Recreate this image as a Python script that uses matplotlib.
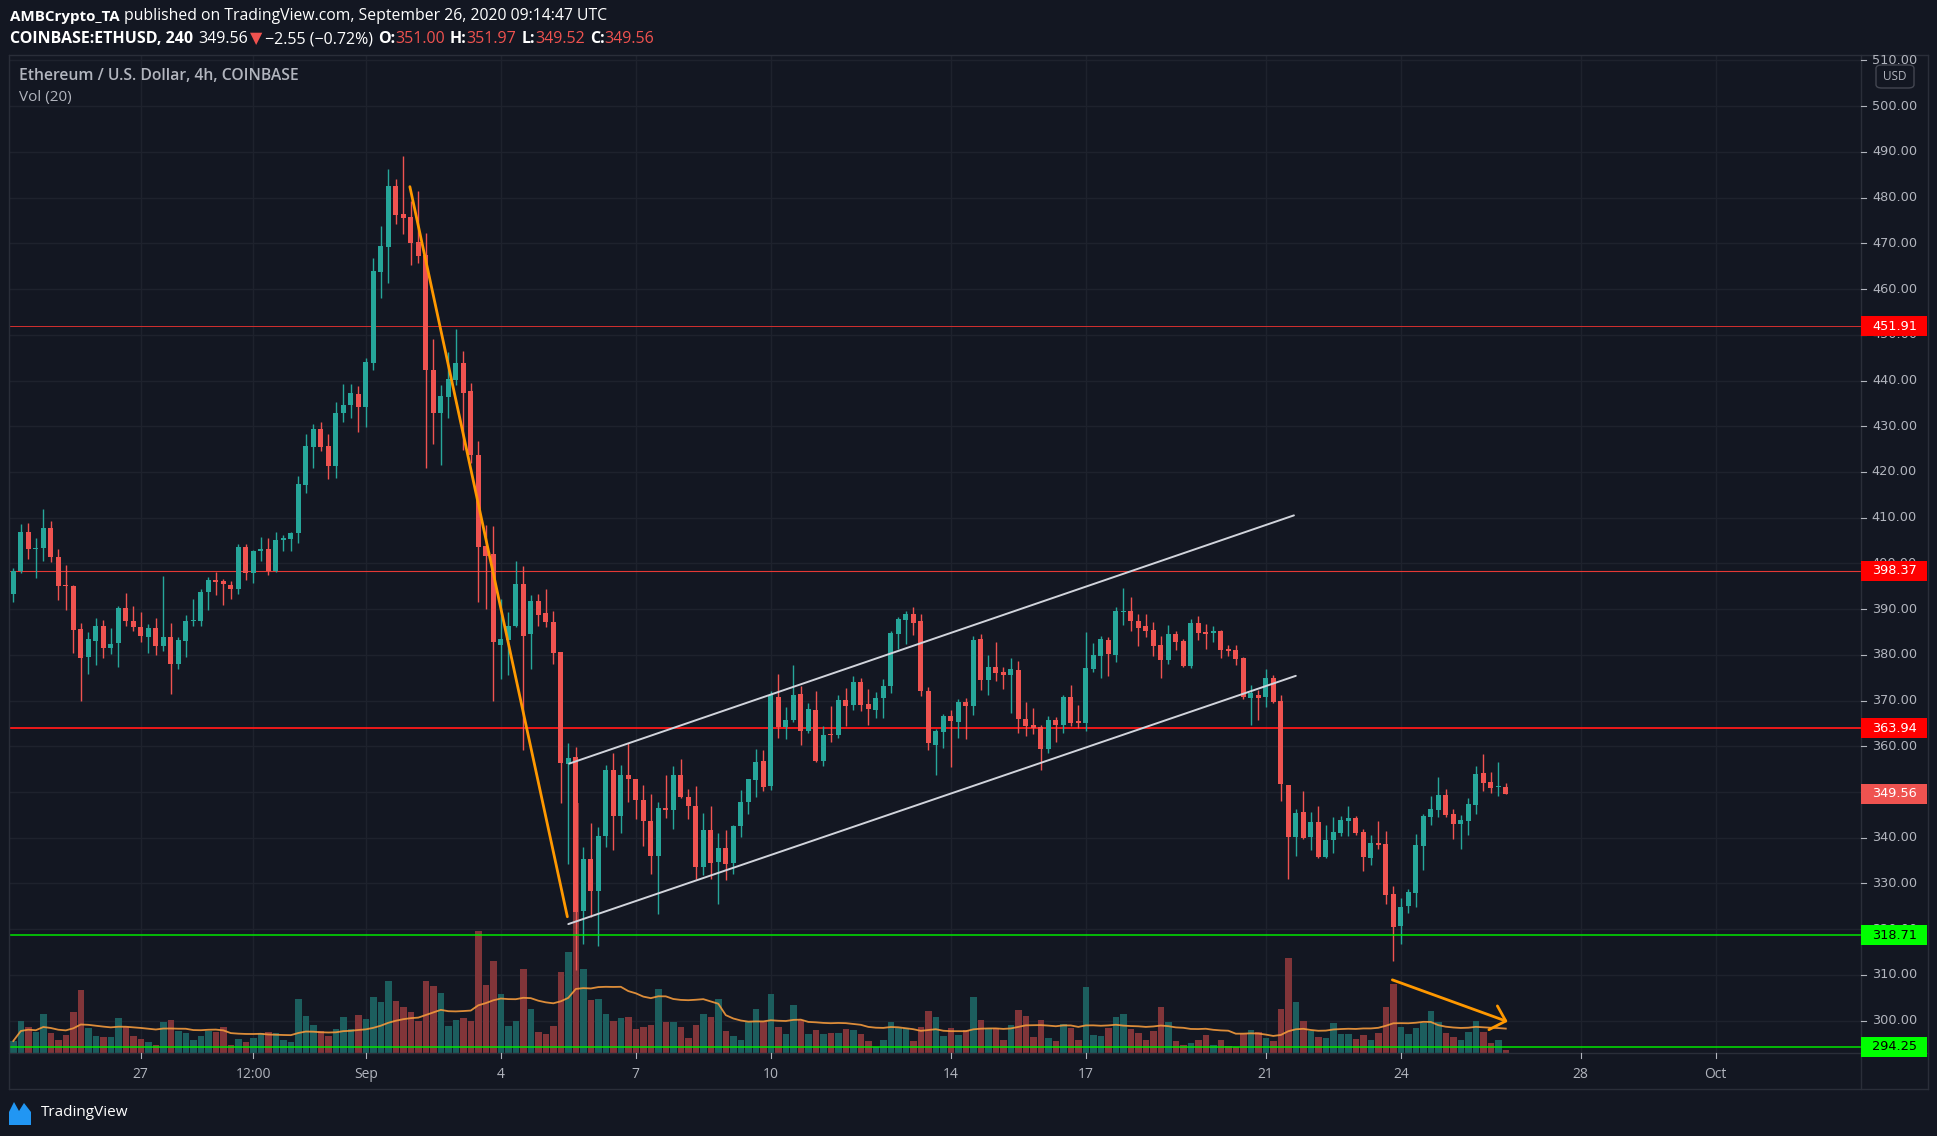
import matplotlib
matplotlib.use("Agg")
import matplotlib.pyplot as plt
import matplotlib.transforms as mtransforms
from matplotlib.lines import Line2D
from matplotlib.patches import Rectangle, FancyBboxPatch, Polygon
import numpy as np
import pandas as pd

# ETHUSD 4h candles, first candle 24 Aug 04:00 UTC
first_candle = "2020-08-24 04:00"

opens = [393.2, 398.3, 406.9, 403.1, 403.3, 407.8, 401.5, 395.1, 395.1, 385.7,
         379.6, 383.1, 386.3, 381.4, 382.5, 390.3, 387.4, 386.1, 384.0, 385.9,
         382.0, 383.9, 377.9, 383.1, 387.3, 387.3, 393.8, 396.4, 396.2, 395.3,
         394.5, 403.6, 397.8, 402.6, 403.2, 398.4, 405.2, 405.3, 406.6, 417.1,
         425.4, 429.3, 425.6, 421.3, 432.8, 434.7, 437.1, 434.1, 443.9, 463.8,
         469.2, 482.5, 476.4, 475.7, 470.3, 467.5, 442.4, 433.0, 436.3, 440.2,
         443.9, 437.8, 423.6, 403.7, 402.0, 382.1, 383.2, 386.2, 395.4, 384.5,
         391.8, 389.2, 387.2, 380.7, 356.2, 357.7, 323.9, 335.4, 328.3, 340.3,
         354.7, 344.7, 353.8, 352.9, 348.3, 343.6, 335.9, 346.4, 346.0, 353.8,
         349.0, 347.0, 333.5, 341.6, 334.6, 337.7, 334.4, 342.5, 347.9, 352.7,
         356.7, 351.2, 370.8, 364.1, 365.7, 371.5, 363.3, 368.0, 356.8, 362.5,
         362.4, 370.2, 369.1, 374.1, 369.3, 368.0, 370.6, 373.2, 384.6, 387.7,
         389.0, 387.5, 372.1, 360.3, 363.2, 366.7, 365.4, 369.7, 368.9, 383.5,
         374.5, 377.4, 376.3, 375.6, 376.7, 366.0, 364.7, 364.3, 359.5, 365.8,
         364.7, 370.8, 365.6, 365.1, 377.0, 379.8, 383.3, 380.0, 389.3, 389.6,
         387.5, 386.4, 385.5, 382.2, 378.9, 384.6, 383.1, 377.6, 387.0, 385.0,
         384.8, 385.3, 381.3, 381.1, 379.4, 370.6, 371.3, 370.8, 375.0, 370.0,
         351.6, 340.2, 345.6, 340.2, 343.5, 335.8, 339.5, 341.0, 343.7, 344.3,
         341.3, 335.6, 338.8, 338.6, 327.7, 320.6, 325.0, 327.9, 338.2, 344.5,
         346.1, 349.4, 345.2, 343.0, 343.7, 347.2, 354.2, 352.2, 351.0, 351.0]

highs = [399.0, 408.7, 408.9, 405.6, 412.0, 409.3, 403.2, 399.7, 395.2, 387.0,
         385.0, 388.1, 387.7, 385.9, 390.7, 393.6, 390.7, 389.4, 386.8, 388.1,
         397.3, 387.0, 383.8, 388.8, 392.1, 394.4, 397.1, 398.2, 396.5, 396.2,
         404.3, 404.3, 403.0, 405.8, 405.6, 406.9, 406.1, 406.9, 419.2, 428.4,
         430.4, 431.0, 428.2, 435.2, 439.3, 439.3, 438.9, 445.0, 466.8, 473.8,
         486.2, 484.0, 489.1, 479.2, 481.4, 472.3, 449.1, 439.1, 446.3, 451.3,
         446.5, 439.5, 426.7, 408.5, 408.2, 392.3, 389.3, 400.5, 399.4, 393.1,
         393.4, 394.4, 389.6, 380.7, 360.6, 359.8, 338.0, 343.3, 342.4, 355.9,
         358.6, 356.0, 360.8, 352.9, 351.6, 349.6, 347.7, 353.6, 355.7, 357.1,
         350.7, 351.2, 345.3, 347.0, 341.0, 341.6, 342.7, 350.4, 352.9, 359.5,
         359.2, 372.1, 375.8, 368.6, 377.8, 373.2, 369.5, 372.1, 364.5, 368.9,
         371.1, 372.8, 375.4, 375.0, 372.6, 371.9, 374.8, 385.3, 388.3, 389.6,
         390.5, 389.0, 373.0, 363.8, 367.1, 368.0, 370.4, 370.6, 384.2, 384.6,
         380.0, 382.9, 377.4, 379.4, 378.7, 369.7, 368.4, 364.7, 366.7, 366.5,
         371.2, 373.5, 369.1, 385.0, 382.6, 384.2, 384.0, 390.5, 394.7, 392.7,
         389.0, 389.0, 387.2, 384.2, 386.6, 385.3, 383.5, 387.9, 388.5, 386.8,
         386.4, 385.5, 382.2, 382.2, 379.6, 373.5, 372.4, 377.0, 375.6, 371.1,
         351.6, 346.3, 350.2, 345.6, 347.0, 342.8, 344.6, 344.8, 347.0, 344.8,
         341.9, 340.6, 343.7, 341.5, 329.4, 326.8, 328.7, 340.8, 345.2, 349.1,
         353.3, 350.7, 346.3, 345.0, 348.7, 355.7, 358.4, 354.4, 356.6, 351.97]

lows = [391.5, 397.9, 400.9, 396.9, 400.6, 400.4, 391.9, 389.7, 380.3, 370.0,
        375.9, 377.7, 379.2, 380.1, 377.4, 386.4, 385.3, 382.7, 380.3, 380.0,
        380.9, 371.5, 376.8, 379.6, 386.2, 386.2, 389.9, 393.0, 390.8, 392.3,
        393.4, 396.3, 395.6, 400.6, 397.4, 398.2, 402.8, 402.6, 404.5, 415.3,
        420.8, 424.6, 418.4, 418.6, 431.0, 431.7, 428.8, 429.9, 442.4, 458.1,
        461.4, 474.2, 472.0, 465.3, 465.7, 420.8, 426.2, 421.6, 431.9, 439.0,
        424.9, 422.0, 391.5, 390.1, 370.0, 374.8, 375.5, 386.0, 359.1, 376.8,
        386.4, 386.0, 377.9, 347.5, 334.2, 311.0, 316.7, 322.7, 316.4, 338.0,
        337.2, 341.0, 347.9, 344.0, 338.2, 332.1, 323.3, 344.4, 341.8, 348.6,
        344.0, 330.9, 331.8, 330.9, 325.4, 330.7, 332.0, 340.2, 345.1, 348.9,
        350.1, 350.4, 361.7, 361.5, 365.2, 360.2, 362.8, 356.6, 355.7, 361.0,
        361.7, 364.5, 368.0, 367.6, 364.7, 366.2, 366.2, 371.7, 381.3, 382.4,
        384.4, 371.0, 359.2, 353.6, 359.7, 355.5, 361.9, 361.6, 366.9, 372.4,
        371.3, 374.3, 372.6, 367.3, 363.0, 362.3, 362.7, 354.9, 358.6, 361.0,
        363.0, 364.5, 364.0, 363.4, 376.3, 375.0, 375.4, 378.5, 386.6, 385.3,
        382.0, 384.0, 379.8, 375.0, 378.0, 381.1, 377.4, 377.2, 383.2, 381.3,
        382.9, 379.4, 379.8, 377.8, 370.4, 364.7, 365.8, 368.6, 369.5, 348.0,
        331.0, 336.0, 339.7, 337.3, 335.5, 335.6, 336.7, 340.4, 340.4, 340.6,
        332.7, 334.0, 337.5, 325.5, 313.0, 316.8, 323.5, 324.8, 332.9, 342.8,
        344.5, 344.5, 339.7, 337.5, 340.6, 345.2, 350.2, 349.8, 349.2, 349.52]

closes = [398.3, 406.9, 403.1, 403.4, 407.8, 401.3, 395.0, 395.0, 385.5, 379.4,
          383.5, 386.3, 381.4, 382.4, 390.3, 387.3, 386.0, 384.2, 385.9, 382.0,
          383.9, 377.9, 383.3, 387.4, 387.4, 393.8, 396.4, 396.0, 395.4, 394.5,
          403.6, 397.8, 402.6, 403.2, 398.4, 405.2, 405.5, 406.7, 417.3, 425.6,
          429.5, 425.4, 421.3, 432.8, 434.7, 437.3, 434.1, 444.1, 464.0, 469.4,
          482.5, 476.2, 475.5, 470.1, 467.2, 442.2, 433.0, 436.7, 440.4, 443.9,
          437.3, 423.8, 403.5, 401.7, 382.7, 383.4, 386.4, 395.4, 384.2, 391.8,
          388.8, 387.1, 380.5, 356.3, 357.5, 323.8, 335.4, 328.3, 340.4, 354.9,
          344.7, 353.8, 352.8, 348.2, 343.6, 335.9, 346.4, 346.0, 353.8, 348.8,
          346.9, 333.5, 341.6, 334.4, 337.7, 334.2, 342.5, 347.7, 352.9, 356.5,
          351.0, 371.1, 364.1, 365.8, 371.3, 363.3, 368.2, 356.8, 362.5, 362.4,
          370.2, 368.9, 374.1, 369.1, 368.2, 370.6, 373.2, 384.8, 387.9, 389.0,
          387.0, 372.1, 360.8, 363.4, 366.7, 365.6, 369.7, 368.9, 383.3, 374.5,
          377.4, 376.1, 375.6, 377.0, 366.0, 364.5, 364.0, 359.5, 365.8, 364.7,
          370.8, 365.1, 365.1, 377.2, 380.0, 383.5, 380.2, 389.6, 389.4, 387.5,
          385.9, 385.3, 382.0, 378.9, 384.6, 382.9, 377.6, 387.0, 384.8, 384.6,
          385.3, 381.1, 380.9, 379.1, 370.8, 371.7, 370.6, 375.0, 369.7, 351.8,
          340.2, 345.4, 339.9, 343.5, 335.8, 339.5, 341.3, 343.9, 344.3, 341.0,
          335.8, 338.8, 338.4, 327.4, 320.4, 324.8, 328.1, 338.4, 344.8, 346.3,
          349.4, 345.0, 343.0, 343.9, 347.4, 354.0, 352.0, 350.9, 351.1, 349.56]

volumes = [12, 32, 26, 21, 39, 20, 13, 18, 41, 63,
           25, 17, 16, 16, 35, 26, 17, 14, 11, 8,
           31, 33, 22, 20, 13, 17, 22, 21, 26, 8,
           14, 11, 15, 20, 21, 20, 13, 11, 54, 37,
           28, 22, 17, 24, 36, 24, 38, 34, 56, 51,
           72, 52, 46, 41, 32, 72, 67, 60, 27, 33,
           35, 32, 122, 68, 92, 59, 27, 32, 84, 44,
           21, 19, 27, 81, 101, 250, 84, 53, 54, 39,
           32, 35, 36, 24, 26, 28, 64, 31, 31, 26,
           15, 28, 39, 36, 54, 22, 17, 13, 31, 44,
           31, 59, 26, 19, 48, 33, 19, 23, 19, 20,
           20, 24, 23, 19, 12, 6, 13, 31, 25, 25,
           12, 26, 42, 36, 17, 25, 18, 23, 56, 33,
           25, 25, 13, 28, 43, 37, 16, 33, 15, 12,
           29, 25, 13, 66, 18, 17, 25, 36, 39, 24,
           20, 13, 22, 46, 31, 12, 8, 10, 13, 18,
           8, 13, 7, 6, 19, 23, 21, 15, 12, 44,
           95, 51, 32, 22, 16, 15, 30, 19, 19, 14,
           18, 13, 20, 46, 69, 26, 19, 25, 30, 42,
           31, 20, 16, 13, 21, 32, 21, 10, 13, 3]

red_levels = [451.91, 398.37, 363.94]
green_levels = [318.71, 294.25]
last_close = 349.56

price_ticks = list(range(300, 520, 10))
date_ticks = ["2020-08-27", "2020-08-29 12:00", "2020-09-01", "2020-09-04",
              "2020-09-07", "2020-09-10", "2020-09-14", "2020-09-17",
              "2020-09-21", "2020-09-24", "2020-09-28", "2020-10-01"]
date_labels = ["27", "12:00", "Sep", "4", "7", "10", "14", "17", "21", "24", "28", "Oct"]

# drawings on the chart (time, price)
fall_line = [("2020-09-01 23:30", 482.4), ("2020-09-05 11:30", 322.7)]
channel_top = [("2020-09-05 12:30", 356.2), ("2020-09-21 15:00", 410.5)]
channel_bottom = [("2020-09-05 12:00", 321.1), ("2020-09-21 16:00", 375.4)]
vol_arrow = [("2020-09-23 19:30", 308.9), ("2020-09-26 08:00", 299.9)]
vol_arrow_head = [("2020-09-26 03:30", 303.2), ("2020-09-26 08:00", 299.9),
                  ("2020-09-25 23:00", 298.0)]

BG = "#131722"
GRID = "#1e222d"
FRAME = "#2a2e39"
TEAL = "#26a69a"
RED = "#ef5350"
TXT = "#b2b5be"
FONT = ["Open Sans", "DejaVu Sans"]

W, H = 1937, 1136
t0 = pd.Timestamp(first_candle)
step = pd.Timedelta("4h")


def pos(t):
    return (pd.Timestamp(t) - t0) / step


def fx(px):
    return px / W


def fy(py):
    return 1 - py / H


n = len(opens)
x = np.arange(n)
o = np.array(opens)
c = np.array(closes)
up = c >= o
cols = np.where(up, TEAL, RED)
vcols = np.where(up, "#1c5e5e", "#813539")

L, R, T, B = 8.5, 1861, 55, 1053
rect = [fx(L), fy(B), fx(R) - fx(L), (B - T) / H]

fig = plt.figure(figsize=(W / 100, H / 100), dpi=100, facecolor=BG)
vax = fig.add_axes(rect)
ax = fig.add_axes(rect, sharex=vax)
ax.patch.set_visible(False)
vax.set_facecolor(BG)
for a in (ax, vax):
    a.set_xticks([])
    a.set_yticks([])
    for s in a.spines.values():
        s.set_visible(False)

xlim = (-0.64, 246.36)
ylim = (292.9, 511.2)

# grid, behind the volume bars
tick_x = [pos(d) for d in date_ticks]
for tx in tick_x:
    vax.axvline(tx, color=GRID, lw=1, zorder=0)
for p in price_ticks:
    vax.plot(xlim, [p, p], color=GRID, lw=1, zorder=0, transform=ax.transData)

# volume + its 20 period average
vax.bar(x, volumes, width=0.86, color=vcols, linewidth=0, zorder=1)
vol_ma = pd.Series(volumes, dtype=float).rolling(20, min_periods=1).mean()
vax.plot(x, vol_ma, color="#f39a3c", lw=1.3, alpha=0.9, zorder=2)
vax.set_ylim(0, B - T)

# candles
body_lo = np.minimum(o, c)
body_h = np.maximum(np.abs(c - o), 0.25)
ax.vlines(x, lows, highs, colors=cols, linewidth=1.0, zorder=3)
ax.bar(x, body_h, bottom=body_lo, width=0.66, color=cols, linewidth=0, zorder=4)

# horizontal levels
ax.axhline(red_levels[0], color="#d32f2f", lw=0.7, zorder=2)
ax.axhline(red_levels[1], color="#e53935", lw=0.8, zorder=2)
ax.axhline(red_levels[2], color="#ff1a1a", lw=1.3, zorder=2)
for p in green_levels:
    ax.axhline(p, color="#00e600", lw=1.1, zorder=5)

# drawings
def draw(points, **kw):
    ax.plot([pos(t) for t, _ in points], [v for _, v in points],
            solid_capstyle="round", **kw)

draw(fall_line, color="#ff9800", lw=2.0, zorder=6)
draw(channel_top, color="#d1d4dc", lw=1.4, zorder=6)
draw(channel_bottom, color="#d1d4dc", lw=1.4, zorder=6)
draw(vol_arrow, color="#ff9800", lw=2.0, zorder=6)
draw(vol_arrow_head, color="#ff9800", lw=2.0, zorder=6)

ax.set_xlim(*xlim)
ax.set_ylim(*ylim)

# frame lines
for (x0, y0, x1, y1) in [(L, T, 1928, T), (L, B, 1928, B), (L, 1089, 1928, 1089),
                         (L, T, L, 1089), (R, T, R, 1089), (1928, T, 1928, 1089)]:
    fig.add_artist(Line2D([fx(x0), fx(x1)], [fy(y0), fy(y1)], color=FRAME, lw=1))

# right price scale
ptrans = mtransforms.blended_transform_factory(fig.transFigure, ax.transData)
lab_x = fx(1894.5)
for p in price_ticks:
    fig.add_artist(Line2D([fx(R), fx(R + 5)], [p, p], transform=ptrans, color=TXT, lw=0.8))
    fig.text(lab_x, p, f"{p:.2f}", transform=ptrans, ha="center", va="center",
             color=TXT, fontsize=9.3, family=["DejaVu Sans"], zorder=2)

half = 10 / ((B - T) / (ylim[1] - ylim[0]))
boxes = [(p, "#ff0000", "white") for p in red_levels]
boxes += [(last_close, RED, "white")]
boxes += [(p, "#00ff00", "black") for p in green_levels]
for p, fc, tc in boxes:
    fig.add_artist(Rectangle((fx(R), p - half), fx(1927) - fx(R), 2 * half,
                             transform=ptrans, facecolor=fc, edgecolor="none", zorder=8))
    fig.text(lab_x, p, f"{p:.2f}", transform=ptrans, ha="center", va="center",
             color=tc, fontsize=9.3, family=["DejaVu Sans"], zorder=9)

fig.add_artist(FancyBboxPatch((fx(1876), fy(88)), fx(38), 23 / H,
                              boxstyle="round,pad=0,rounding_size=0.003",
                              facecolor=BG, edgecolor="#434651", lw=1, zorder=8))
fig.text(fx(1895), fy(76.5), "USD", ha="center", va="center", color=TXT,
         fontsize=8.5, family=FONT, zorder=9)

# time scale
ttrans = mtransforms.blended_transform_factory(ax.transData, fig.transFigure)
for tx, lab in zip(tick_x, date_labels):
    fig.add_artist(Line2D([tx, tx], [fy(B), fy(B + 5)], transform=ttrans, color=TXT, lw=0.8))
    fig.text(tx, fy(1074), lab, transform=ttrans, ha="center", va="center",
             color=TXT, fontsize=10, family=FONT)

# header
renderer = fig.canvas.get_renderer()


def runs(x_px, y_px, parts):
    xx = x_px
    for s, col, wt, size, gap in parts:
        t = fig.text(fx(xx), fy(y_px), s, color=col, fontsize=size, fontweight=wt,
                     family=FONT, ha="left", va="center")
        xx += t.get_window_extent(renderer=renderer).width + gap


WH = "#ffffff"
HR = "#f0524f"
runs(10, 16.5, [("AMBCrypto_TA", WH, "bold", 10.9, 4),
                ("published on TradingView.com, September 26, 2020 09:14:47 UTC", WH, "normal", 11.35, 0)])
S2 = 11.5
runs(10, 39, [("COINBASE:ETHUSD, 240", WH, "bold", S2, 5), ("349.56", WH, "normal", S2, 2),
              ("▼", HR, "normal", S2, 3), ("−2.55 (−0.72%)", WH, "normal", S2, 5),
              ("O:", WH, "bold", S2, 0), ("351.00", HR, "normal", S2, 5),
              ("H:", WH, "bold", S2, 0), ("351.97", HR, "normal", S2, 5),
              ("L:", WH, "bold", S2, 0), ("349.52", HR, "normal", S2, 5),
              ("C:", WH, "bold", S2, 0), ("349.56", HR, "normal", S2, 0)])

fig.text(fx(19), fy(76.5), "Ethereum / U.S. Dollar, 4h, COINBASE", color=TXT,
         fontsize=11.3, fontweight="semibold", family=FONT, ha="left", va="center")
fig.text(fx(19), fy(98), "Vol (20)", color=TXT, fontsize=11, family=FONT,
         ha="left", va="center")

# TradingView logo
logo = [(9, 1125), (9, 1112), (14, 1102), (19, 1111), (24, 1103), (31, 1112), (31, 1125)]
fig.add_artist(Polygon([(fx(a), fy(b)) for a, b in logo], closed=True,
                       facecolor="#2196f3", edgecolor="none"))
fig.text(fx(41), fy(1113), "TradingView", color="#ffffff", fontsize=11,
         family=FONT, ha="left", va="center")

fig.savefig("out.png", dpi=100, facecolor=BG)
